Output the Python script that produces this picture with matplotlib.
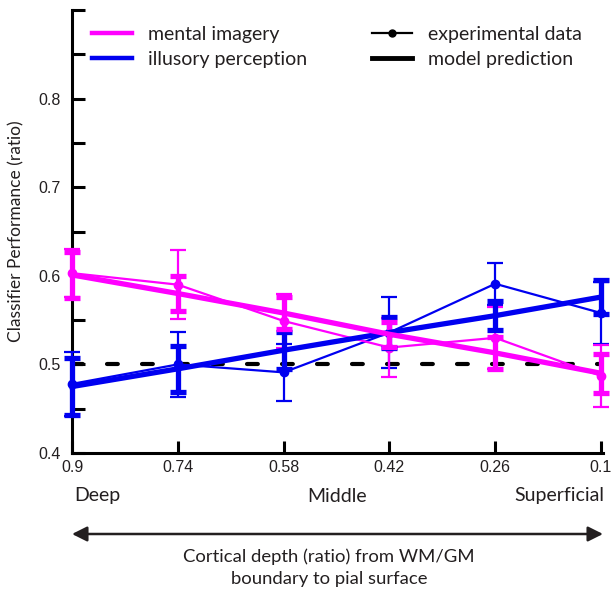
import matplotlib.pyplot as plt
from matplotlib.ticker import MultipleLocator

depth_labels = ['0.9', '0.74', '0.58', '0.42', '0.26', '0.1']
imagery_data = [0.603, 0.590, 0.549, 0.519, 0.530, 0.487]
imagery_data_err = [0.027, 0.039, 0.031, 0.033, 0.035, 0.035]
imagery_model = [0.601, 0.580, 0.558, 0.534, 0.513, 0.490]
imagery_model_err = [0.026, 0.020, 0.018, 0.014, 0.018, 0.022]
illusory_data = [0.478, 0.500, 0.491, 0.536, 0.591, 0.558]
illusory_data_err = [0.036, 0.037, 0.032, 0.040, 0.024, 0.035]
illusory_model = [0.475, 0.495, 0.516, 0.536, 0.555, 0.576]
illusory_model_err = [0.032, 0.026, 0.021, 0.018, 0.016, 0.019]
chance = 0.5

MAGENTA = '#ff00ff'
BLUE = '#0000f0'
TXT = '#231f20'

plt.rcParams['font.family'] = ['Lato', 'DejaVu Sans']

W, H = 612, 594
fig = plt.figure(figsize=(W / 100, H / 100), dpi=100)


def fx(px):
    return px / W


def fy(py):
    return 1 - py / H


ax = fig.add_axes([fx(72), fy(453), fx(601) - fx(72), fy(10) - fy(453)])
x = list(range(len(depth_labels)))

ax.plot([x[0], x[-1]], [chance, chance], color='black', lw=3,
        dashes=(2.6, 5.8), dash_capstyle='round', zorder=1)

for data, err, col in [(illusory_data, illusory_data_err, BLUE),
                       (imagery_data, imagery_data_err, MAGENTA)]:
    ax.errorbar(x, data, yerr=err, color=col, lw=1.6, marker='o', ms=6,
                capsize=5.5, capthick=1.6, elinewidth=1.6, clip_on=False, zorder=3)

for model, err, col in [(illusory_model, illusory_model_err, BLUE),
                        (imagery_model, imagery_model_err, MAGENTA)]:
    ax.errorbar(x, model, yerr=err, color=col, lw=3.8,
                capsize=6, capthick=3.8, elinewidth=3.8, clip_on=False, zorder=4)

ax.set_xlim(0, 5)
ax.set_ylim(0.4, 0.9)
ax.set_xticks(x)
ax.set_xticklabels(depth_labels, fontfamily='Liberation Sans', fontsize=11.5)
ax.yaxis.set_minor_locator(MultipleLocator(0.05))
ax.set_yticks([0.4, 0.5, 0.6, 0.7, 0.8])
ax.set_yticklabels(['0.4', '0.5', '0.6', '0.7', '0.8'],
                   fontfamily='Liberation Sans', fontsize=11.5)
ax.tick_params(axis='both', which='both', direction='in', length=9, width=2.2,
               colors='black', labelcolor=TXT)
ax.tick_params(axis='y', pad=8)
ax.tick_params(axis='x', pad=5)
for s in ['top', 'right']:
    ax.spines[s].set_visible(False)
for s in ['left', 'bottom']:
    ax.spines[s].set_linewidth(2.2)
    ax.spines[s].set_clip_on(False)
ax.spines['bottom'].set_bounds(0, 5.02)

ax.set_ylabel('Classifier Performance (ratio)', fontsize=12.5, color=TXT, labelpad=10)

h_img, = ax.plot([], [], color=MAGENTA, lw=3.2)
h_ill, = ax.plot([], [], color=BLUE, lw=3.2)
h_exp, = ax.plot([], [], color='black', lw=1.6, marker='o', ms=5)
h_mod, = ax.plot([], [], color='black', lw=3.5)

leg_kw = dict(frameon=False, fontsize=14, loc='upper left',
              bbox_transform=fig.transFigure, borderpad=0, borderaxespad=0,
              handlelength=2.05, handletextpad=0.85, labelspacing=0.4,
              labelcolor=TXT)
leg1 = ax.legend([h_img, h_ill], ['mental imagery', 'illusory perception'],
                 bbox_to_anchor=(fx(92), fy(26)), **leg_kw)
ax.add_artist(leg1)
ax.legend([h_exp, h_mod], ['experimental data', 'model prediction'],
          bbox_to_anchor=(fx(372), fy(26)), **leg_kw)

fig.text(fx(74), fy(496), 'Deep', fontsize=14, color=TXT, va='center', ha='left')
fig.text(fx(337), fy(496), 'Middle', fontsize=14, color=TXT, va='center', ha='center')
fig.text(fx(604), fy(496), 'Superficial', fontsize=14, color=TXT, va='center', ha='right')

ax.annotate('', xy=(fx(603), fy(534)), xytext=(fx(72), fy(534)),
            xycoords='figure fraction', textcoords='figure fraction',
            arrowprops=dict(arrowstyle='<|-|>,head_length=0.9,head_width=0.45',
                            color=TXT, lw=1.8, shrinkA=0, shrinkB=0))

fig.text(fx(329), fy(557), 'Cortical depth (ratio) from WM/GM', fontsize=13.3,
         color=TXT, va='center', ha='center')
fig.text(fx(329), fy(579), 'boundary to pial surface', fontsize=13.3,
         color=TXT, va='center', ha='center')

fig.savefig('out.png', dpi=100)
